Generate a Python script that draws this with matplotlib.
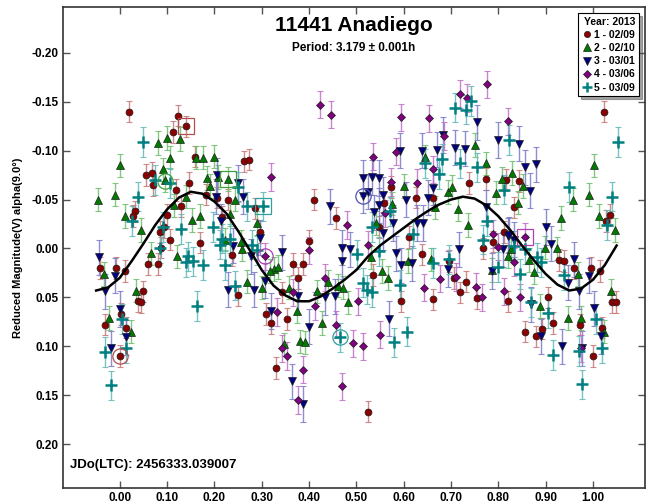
import numpy as np
import matplotlib
matplotlib.use('Agg')
import matplotlib.pyplot as plt

plt.rcParams['font.family'] = ['Liberation Sans', 'DejaVu Sans']
plt.rcParams['font.weight'] = 'bold'

# Session 1 - 02/09
red_ph = [0.02, 0.124, 0.112, 0.14, 0.055, 0.068, 0.07, 0.158, 0.118, 0.146, 0.13, 0.183, 0.206,
          0.033, 0.027, 0.10, 0.085, 0.093, 0.106, 0.17, 0.087, -0.042, -0.008, 0.011, 0.059, 0.08,
          0.038, 0.045, 0.049, -0.032, 0.002, 0.013, 0.0, 0.263, 0.273, 0.411, 0.458, 0.286, 0.229,
          0.216, 0.297, 0.4, 0.237, 0.25, 0.366, 0.388, 0.377, 0.343, 0.309, 0.32, 0.354, 0.331,
          0.525, 0.536, 0.739, 0.775, 0.574, 0.559, 0.625, 0.663, 0.816, 0.811, 0.788, 0.547, 0.612,
          0.638, 0.767, 0.595, 0.661, 0.706, 0.718, 0.731, 0.754, 0.821, 0.695, 1.023, 0.843, 0.833,
          1.036, 1.028, 0.856, 0.879, 0.892, 0.905, 0.915, 0.972, 1.0, 0.996, 1.015, 0.96, 1.04,
          1.049, 1.019, 0.928, 0.939]
red_mag = [-0.14, -0.136, -0.119, -0.125, -0.075, -0.077, -0.065, -0.094, -0.06, -0.067, -0.043, -0.055, -0.052,
           -0.038, -0.033, -0.034, -0.017, -0.022, -0.009, -0.006, -0.001, 0.02, 0.02, 0.023, 0.016, 0.016,
           0.054, 0.055, 0.044, 0.078, 0.067, 0.081, 0.11, -0.089, -0.091, -0.05, -0.031, -0.041, -0.05,
           -0.032, -0.017, -0.008, 0.007, 0.048, 0.016, 0.016, 0.03, 0.045, 0.067, 0.076, 0.072, 0.122,
           0.167, 0.027, -0.067, -0.071, -0.063, -0.047, -0.052, -0.052, -0.07, -0.017, -0.007, -0.022, -0.012,
           0.006, 0.0, 0.054, 0.052, 0.03, 0.045, 0.034, 0.051, 0.054, 0.013, -0.14, -0.069, -0.042,
           -0.034, -0.028, 0.085, 0.09, 0.082, 0.05, 0.076, 0.078, 0.11, 0.02, 0.023, 0.02, 0.055,
           0.055, 0.081, 0.012, 0.013]

# Session 2 - 02/10
grn_ph = [-0.047, -0.01, 0.0, 0.01, 0.045, 0.08, 0.10, 0.127, 0.106, 0.091, 0.095, 0.14, 0.114, 0.153,
          0.161, 0.176, 0.2, 0.184, 0.19, 0.17, 0.066, 0.12, -0.034, 0.034, -0.023, 0.023, 0.229, 0.208,
          0.244, 0.233, 0.29, 0.222, 0.256, 0.269, 0.3, 0.326, 0.335, 0.358, 0.375, 0.417, 0.428, 0.441,
          0.462, 0.472, 0.483, 0.53, 0.381, 0.392, 0.347, 0.318, 0.258, 0.75, 0.773, 0.646, 0.6, 0.693,
          0.703, 0.795, 0.807, 0.576, 0.667, 0.714, 0.735, 0.542, 0.826, 0.555, 0.566, 0.61, 0.657, 0.786,
          0.82, 1.002, 0.992, 0.958, 0.828, 0.852, 0.841, 0.932, 1.013, 1.047, 0.898, 0.924, 0.865, 0.875,
          0.888, 0.947, 0.975, 1.023, 1.038, 0.968]
grn_mag = [-0.05, -0.055, -0.085, -0.033, -0.019, -0.108, -0.113, -0.112, -0.093, -0.081, -0.07, -0.053, -0.044, -0.029,
           -0.093, -0.093, -0.094, -0.072, -0.064, -0.033, 0.005, 0.008, 0.026, 0.043, 0.071, 0.085, -0.071, -0.073,
           -0.05, -0.035, -0.026, -0.009, -0.007, 0.034, 0.04, 0.021, 0.019, 0.04, 0.064, 0.044, 0.076, 0.034,
           0.038, 0.04, 0.055, 0.009, 0.095, 0.096, 0.098, 0.023, 0.001, -0.106, -0.087, -0.094, -0.064, -0.058,
           -0.063, -0.057, -0.071, -0.046, -0.042, -0.04, -0.024, -0.026, 0.001, 0.023, 0.03, 0.013, 0.011, 0.022,
           0.008, -0.085, -0.055, -0.05, -0.077, -0.064, -0.047, -0.031, -0.033, -0.019, -0.001, 0.0, 0.012, 0.024,
           0.059, 0.071, 0.071, 0.085, 0.043, 0.026]

# Session 3 - 03/01
blu_ph = [0.206, 0.203, 0.214, -0.044, -0.032, -0.011, 0.0, -0.019, 0.013, 0.25, 0.26, 0.297, 0.239,
          0.343, 0.445, 0.513, 0.525, 0.534, 0.515, 0.47, 0.487, 0.229, 0.284, 0.307, 0.32, 0.377, 0.4,
          0.434, 0.455, 0.364, 0.388, 0.47, 0.277, 0.593, 0.638, 0.671, 0.684, 0.708, 0.729, 0.754, 0.799,
          0.547, 0.604, 0.651, 0.661, 0.557, 0.547, 0.538, 0.578, 0.629, 0.64, 0.557, 0.583, 0.716, 0.773,
          0.82, 0.809, 0.57, 0.595, 0.617, 0.693, 0.786, 0.843, 0.856, 0.879, 0.867, 0.9, 0.911, 0.822,
          0.833, 0.947, 0.97, 0.992, 1.002, 0.89, 0.934, 0.977, 1.017, 0.96, 0.869]
blu_mag = [-0.075, -0.053, -0.028, 0.009, 0.044, 0.028, 0.062, 0.102, 0.091, -0.067, -0.053, -0.011, -0.003,
           0.004, -0.043, -0.054, -0.058, -0.073, -0.072, -0.001, 0.001, 0.042, 0.042, 0.033, 0.064, 0.049, 0.08,
           0.05, 0.049, 0.136, 0.159, 0.013, 0.008, -0.1, -0.1, -0.101, -0.116, -0.103, -0.102, -0.129, -0.111,
           -0.072, -0.05, -0.052, -0.062, -0.055, -0.044, -0.037, -0.026, -0.026, -0.026, -0.016, 0.005, 0.001, -0.042,
           -0.013, 0.001, 0.072, 0.017, 0.015, 0.021, 0.023, -0.107, -0.083, -0.086, -0.059, -0.022, -0.005, -0.014,
           -0.009, 0.035, 0.044, 0.028, 0.061, 0.09, 0.1, 0.102, 0.09, 0.011, 0.057]

# Session 4 - 03/06
pur_ph = [0.424, 0.447, 0.32, 0.481, 0.525, 0.536, 0.4, 0.307, 0.333, 0.366, 0.413, 0.434, 0.458,
          0.343, 0.354, 0.388, 0.377, 0.47, 0.492, 0.515, 0.504, 0.777, 0.72, 0.733, 0.595, 0.653,
          0.583, 0.686, 0.82, 0.663, 0.574, 0.629, 0.561, 0.788, 0.799, 0.549, 0.642, 0.676, 0.71,
          0.752, 0.765, 0.811, 0.833, 0.856, 0.845, 0.975]
pur_mag = [-0.147, -0.137, -0.073, -0.024, -0.004, -0.094, 0.002, 0.008, 0.065, 0.045, 0.059, 0.03, 0.078,
           0.102, 0.11, 0.124, 0.155, 0.141, 0.097, 0.1, 0.054, -0.168, -0.158, -0.154, -0.134, -0.133,
           -0.099, -0.115, -0.13, -0.081, -0.068, -0.067, -0.036, -0.015, -0.002, 0.088, 0.04, 0.031, 0.029,
           0.039, 0.05, 0.044, 0.014, -0.012, 0.05, 0.102]

# Session 5 - 03/09
cyn_ph = [0.049, 0.074, 0.106, 0.038, 0.025, 0.091, 0.13, 0.197, 0.212, 0.085, 0.144, -0.032, -0.019,
          0.004, 0.013, 0.14, 0.155, 0.176, 0.163, 0.303, 0.269, 0.25, 0.216, 0.233, 0.28, 0.29, 0.502,
          0.534, 0.222, 0.244, 0.466, 0.513, 0.523, 0.534, 0.708, 0.731, 0.742, 0.822, 0.644, 0.682, 0.718,
          0.756, 0.674, 0.572, 0.777, 0.767, 0.811, 0.547, 0.619, 0.58, 0.606, 0.593, 0.661, 0.695, 0.799,
          1.053, 0.949, 1.04, 1.03, 0.833, 0.856, 0.845, 0.869, 0.905, 0.915, 0.97, 0.977, 1.006, 1.019,
          0.939, 0.89, 0.881]
cyn_mag = [-0.109, -0.07, -0.067, -0.053, -0.028, -0.022, -0.02, -0.022, -0.004, 0.0, 0.008, 0.106, 0.14,
           0.072, 0.102, 0.014, 0.013, 0.017, 0.059, -0.043, -0.043, -0.063, -0.01, -0.01, -0.004, 0.002, 0.006,
           -0.022, 0.017, 0.038, 0.091, 0.035, 0.042, 0.045, -0.144, -0.142, -0.151, -0.111, -0.087, -0.092, -0.087,
           -0.083, -0.076, -0.038, -0.028, -0.009, -0.06, 0.003, -0.015, 0.096, 0.085, 0.037, 0.015, 0.011, 0.019,
           -0.109, -0.063, -0.053, -0.024, -0.003, 0.001, 0.026, 0.055, 0.066, 0.109, 0.105, 0.139, 0.072, 0.102,
           0.027, 0.014, 0.009]

# typical error per session
errs = [0.011, 0.012, 0.018, 0.014, 0.015]

# Fourier fit
fit_ph = [-0.05, -0.025, 0.0, 0.025, 0.05, 0.075, 0.1, 0.125, 0.15, 0.175, 0.2, 0.225, 0.25, 0.275,
          0.3, 0.325, 0.35, 0.375, 0.4, 0.425, 0.45, 0.475, 0.5, 0.525, 0.55, 0.575, 0.6, 0.625, 0.65,
          0.675, 0.7, 0.725, 0.75, 0.775, 0.8, 0.825, 0.85, 0.875, 0.9, 0.925, 0.95, 0.975, 1.0, 1.025, 1.05]
fit_mag = [0.043, 0.040, 0.030, 0.013, -0.005, -0.024, -0.040, -0.052, -0.058, -0.056, -0.048, -0.036, -0.018, 0.002,
           0.022, 0.038, 0.048, 0.054, 0.054, 0.049, 0.041, 0.032, 0.022, 0.008, -0.003, -0.012, -0.021, -0.030, -0.038,
           -0.045, -0.050, -0.053, -0.051, -0.044, -0.033, -0.019, -0.003, 0.012, 0.026, 0.037, 0.043, 0.041, 0.032, 0.017, -0.003]

# flagged points (open square / open circle)
sq_ph = [0.14, 0.229, 0.303, 0.856]
sq_mag = [-0.125, -0.071, -0.043, -0.012]
sq_col = ['#b05050', '#40a040', '#30a0a0', '#b040b0']
ci_ph = [0.095, 0.0, 0.307, 0.513, 0.466]
ci_mag = [-0.069, 0.11, 0.008, -0.054, 0.091]
ci_col = ['#40a040', '#b05050', '#b040b0', '#5050b0', '#30a0a0']

labels = ['1 - 02/09', '2 - 02/10', '3 - 03/01', '4 - 03/06', '5 - 03/09']
colors = ['#8b0000', '#007a00', '#000080', '#800080', '#008080']
ecolors = ['#c87878', '#6cbf6c', '#7a7ac8', '#c070c8', '#60b8b8']
markers = ['o', '^', 'v', 'D', '+']
msizes = [5, 6, 6, 4, 8]

fig = plt.figure(figsize=(6.49, 5.04), dpi=100)
ax = fig.add_axes([63 / 649, 16 / 504, 582 / 649, 481 / 504])

series = [(red_ph, red_mag), (grn_ph, grn_mag), (blu_ph, blu_mag), (pur_ph, pur_mag), (cyn_ph, cyn_mag)]
handles = []
for i, (ph, mag) in enumerate(series):
    ax.errorbar(ph, mag, yerr=errs[i], fmt='none', ecolor=ecolors[i], elinewidth=1.0,
                capsize=2, capthick=0.8, alpha=0.85, zorder=2)
    if markers[i] == '+':
        h, = ax.plot(ph, mag, linestyle='none', marker='+', ms=msizes[i], mew=1.8,
                     color=colors[i], zorder=3, label=labels[i])
    else:
        h, = ax.plot(ph, mag, linestyle='none', marker=markers[i], ms=msizes[i], mew=0.5,
                     mfc=colors[i], mec='#202020', zorder=3, label=labels[i])
    handles.append(h)

for x, y, c in zip(sq_ph, sq_mag, sq_col):
    ax.plot(x, y, marker='s', ms=11, mfc='none', mec=c, mew=0.9, zorder=4)
for x, y, c in zip(ci_ph, ci_mag, ci_col):
    ax.plot(x, y, marker='o', ms=11, mfc='none', mec=c, mew=0.9, zorder=4)

ax.plot(fit_ph, fit_mag, color='black', lw=1.8, zorder=5)

ax.set_xlim(-0.12, 1.11)
ax.set_ylim(0.245, -0.247)
ax.set_xticks(np.arange(0, 1.01, 0.1))
ax.set_xticklabels(['%.2f' % v for v in np.arange(0, 1.01, 0.1)])
ax.set_yticks(np.arange(-0.20, 0.201, 0.05))
ax.set_yticklabels(['%.2f' % v if abs(v) > 1e-9 else '0.00' for v in np.arange(-0.20, 0.201, 0.05)])
ax.tick_params(direction='in', top=True, right=True, length=5, width=1, labelsize=8.5, pad=3, color='#555555')
for s in ax.spines.values():
    s.set_linewidth(1.2)
    s.set_color('#333333')

ax.set_ylabel('Reduced Magnitude(V) alpha(9.0°)', fontsize=8, fontweight='bold', labelpad=6)

ax.text(0.5, 0.982, '11441 Anadiego', transform=ax.transAxes, ha='center', va='top',
        fontsize=15, fontweight='bold')
ax.text(0.5, 0.928, 'Period: 3.179 ± 0.001h', transform=ax.transAxes, ha='center', va='top',
        fontsize=8.5, fontweight='bold')
ax.text(0.012, 0.035, 'JDo(LTC): 2456333.039007', transform=ax.transAxes, ha='left', va='bottom',
        fontsize=9.5, fontweight='bold')

leg = ax.legend(handles=handles, loc='upper right', title='Year: 2013', fontsize=7.5,
                title_fontsize=7.5, frameon=True, fancybox=False, shadow=True, borderpad=0.35,
                handletextpad=0.2, handlelength=1.0, labelspacing=0.3, borderaxespad=0.6,
                markerscale=0.9)
leg.get_frame().set_edgecolor('black')
leg.get_frame().set_linewidth(0.8)
leg.get_title().set_fontweight('bold')
leg._legend_box.align = 'right'

fig.savefig('out.png', dpi=100)
